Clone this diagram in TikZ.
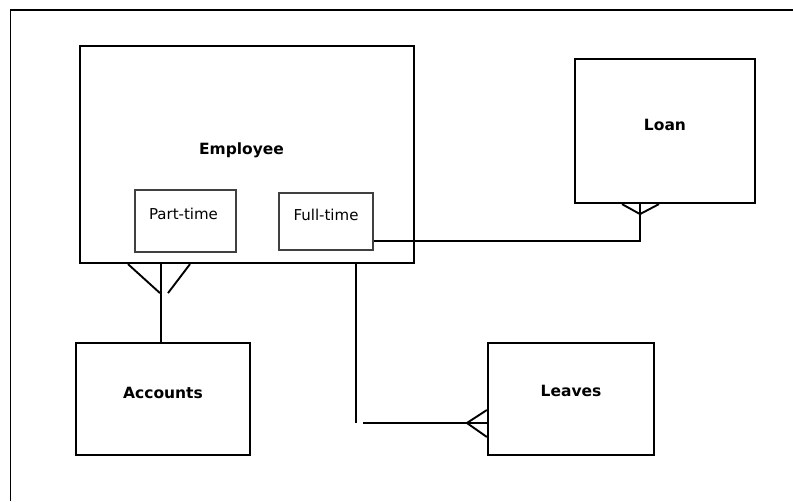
\documentclass[tikz,border=0pt]{standalone}
\usepackage{fontspec}
\setsansfont{DejaVu Sans}
\usepackage{tikz}
\usetikzlibrary{calc}
\tikzset{
  entity/.style={draw=black, line width=2.2pt, rectangle, inner sep=0pt},
  subtype/.style={draw=black!75, line width=1.2pt, rectangle, inner sep=0pt},
  enttext/.style={font=\sffamily\bfseries\fontsize{15.5}{18}\selectfont, text height=11pt, text depth=0pt, yshift=6},
  subtext/.style={font=\sffamily\fontsize{15}{18}\selectfont, text height=11pt, text depth=0pt, yshift=7},
  link/.style={black, line width=1.9pt},
}

\begin{document}
\begin{tikzpicture}[x=1pt, y=-1pt]
\useasboundingbox (0,0) rectangle (793,501);
% frame
\draw[black, line width=1.6pt] (793,10) -- (10.5,10) -- (10.5,501);

% entities
\node[entity, minimum width=334, minimum height=217, label={[enttext, xshift=-5.5]center:Employee}] (emp) at (247,154.5) {};
\node[entity, minimum width=180, minimum height=144, label={[enttext]center:Loan}] (ln) at (665,131) {};
\node[entity, minimum width=174, minimum height=112, label={[enttext]center:Accounts}] (acc) at (163,399) {};
\node[entity, minimum width=166, minimum height=112, label={[enttext, yshift=2]center:Leaves}] (lv) at (571,399) {};

% sub types
\node[subtype, minimum width=101, minimum height=62, label={[subtext, xshift=-2]center:Part-time}] (pt) at (185.5,221) {};
\node[subtype, minimum width=94, minimum height=57, label={[subtext]center:Full-time}] (ft) at (326,221.5) {};

% employee -- accounts
\coordinate (accjoin) at (161,292);
\draw[link] (accjoin |- emp.south) -- (accjoin |- acc.north);
\draw[link] (accjoin |- emp.south) ++(-33,0) -- ++(32,29);
\draw[link] (accjoin |- emp.south) ++(29,0) -- ++(-22,29);

% employee -- leaves
\coordinate (lvjoin) at (356,423);
\draw[link] (lvjoin |- emp.south) -- (lvjoin);
\draw[link] ([xshift=7]lvjoin) -- (lvjoin -| lv.west);
\draw[link] ($(lvjoin -| lv.west)+(0,-13)$) -- ($(lvjoin -| lv.west)+(-20,0)$) -- ($(lvjoin -| lv.west)+(0,14)$);

% full-time -- loan
\coordinate (lnjoin) at (640,241);
\draw[link] (ft.east |- lnjoin) -- (lnjoin) -- (lnjoin |- ln.south);
\draw[link] ($(lnjoin |- ln.south)+(-18,0)$) -- ($(lnjoin |- ln.south)+(0,10)$) -- ($(lnjoin |- ln.south)+(19,0)$);
\end{tikzpicture}
\end{document}
